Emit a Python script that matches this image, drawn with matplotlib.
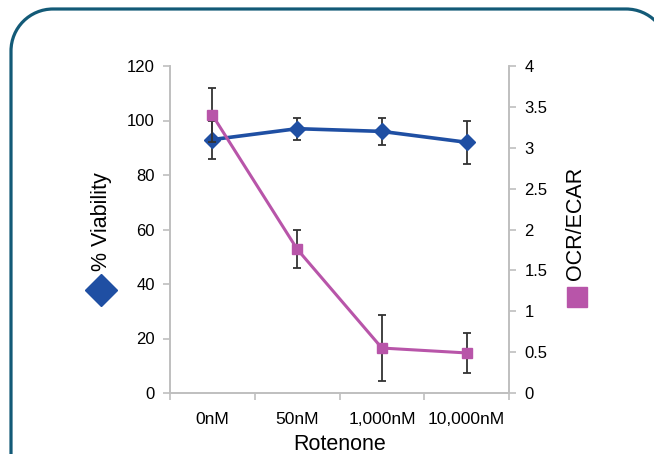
import numpy as np
import matplotlib
matplotlib.use('Agg')
import matplotlib.pyplot as plt
from matplotlib.patches import PathPatch
from matplotlib.path import Path
from matplotlib.lines import Line2D

plt.rcParams['font.family'] = ['Liberation Sans', 'DejaVu Sans']

# ── data ─────────────────────────────────────
categories = ['0nM', '50nM', '1,000nM', '10,000nM']
viability = [93, 97, 96, 92]
viability_err = [7, 4, 5, 8]
ocr_ecar = [3.4, 1.76, 0.55, 0.49]
ocr_ecar_err = [0.33, 0.23, 0.40, 0.25]

left_ticks = [0, 20, 40, 60, 80, 100, 120]
right_ticks = [0, 0.5, 1, 1.5, 2, 2.5, 3, 3.5, 4]
right_labels = ['0', '0.5', '1', '1.5', '2', '2.5', '3', '3.5', '4']

blue = '#1f4fa3'
pink = '#b855a9'
grey = '#bfbfbf'
bar_col = '#333333'

W, H = 654, 454
fig = plt.figure(figsize=(W / 100, H / 100), dpi=100)

ax = fig.add_axes([170 / W, (H - 393) / H, (509 - 170) / W, (393 - 66) / H])
ax2 = ax.twinx()

x = np.arange(len(categories))

ax.errorbar(x, viability, yerr=viability_err, fmt='none', ecolor=bar_col,
            elinewidth=1.3, capsize=3, capthick=1.3, zorder=1)
ax.plot(x, viability, color=blue, lw=2.6, marker='D', ms=8, zorder=3)

ax2.errorbar(x, ocr_ecar, yerr=ocr_ecar_err, fmt='none', ecolor=bar_col,
             elinewidth=1.3, capsize=3, capthick=1.3, zorder=1)
ax2.plot(x, ocr_ecar, color=pink, lw=2.2, marker='s', ms=6.5, zorder=3)

ax.set_xlim(-0.5, 3.5)
ax.set_ylim(0, 120)
ax2.set_ylim(0, 4)

ax.set_yticks(left_ticks)
ax2.set_yticks(right_ticks)
ax2.set_yticklabels(right_labels)
ax.set_xticks(x)
ax.set_xticklabels(categories)
ax.set_xticks(np.arange(-0.5, 4, 1), minor=True)

for a in (ax, ax2):
    a.spines['top'].set_visible(False)
    for s in ('left', 'right', 'bottom'):
        a.spines[s].set_color(grey)
        a.spines[s].set_linewidth(1.2)
    a.tick_params(axis='y', colors=grey, labelcolor='black', length=5,
                  width=1.2, labelsize=12, pad=6)

ax.tick_params(axis='x', which='major', length=0, labelsize=12.5, pad=14)
ax.tick_params(axis='x', which='minor', length=5, width=1.2, colors=grey)

ax.set_xlabel('Rotenone', fontsize=15.5, labelpad=4.5)

# axis titles with their series marker, placed beside the axes
fig.text(102 / W, (H - 222) / H, '% Viability', rotation=90, fontsize=15.5,
         ha='center', va='center')
fig.text(576 / W, (H - 223) / H, 'OCR/ECAR', rotation=90, fontsize=15.5,
         ha='center', va='center')
fig.add_artist(Line2D([101 / W], [(H - 290) / H], marker='D', ms=16,
                      color=blue, transform=fig.transFigure))
fig.add_artist(Line2D([577 / W], [(H - 297) / H], marker='s', ms=14.5,
                      color=pink, transform=fig.transFigure))

# rounded frame around the panel (pixel coordinates, runs off right/bottom)
x0, x1, y_top, y_bot, r = 11, 668, H - 9, -60, 42
k = 0.5523 * r
verts = [(x0, y_bot), (x0, y_top - r),
         (x0, y_top - r + k), (x0 + r - k, y_top), (x0 + r, y_top),
         (x1 - r, y_top),
         (x1 - r + k, y_top), (x1, y_top - r + k), (x1, y_top - r),
         (x1, y_bot)]
codes = [Path.MOVETO, Path.LINETO,
         Path.CURVE4, Path.CURVE4, Path.CURVE4,
         Path.LINETO,
         Path.CURVE4, Path.CURVE4, Path.CURVE4,
         Path.LINETO]
frame = PathPatch(Path(verts, codes), transform=None, facecolor='none',
                  edgecolor='#135a77', linewidth=2.3)
fig.add_artist(frame)

fig.savefig('out.png', dpi=100)
